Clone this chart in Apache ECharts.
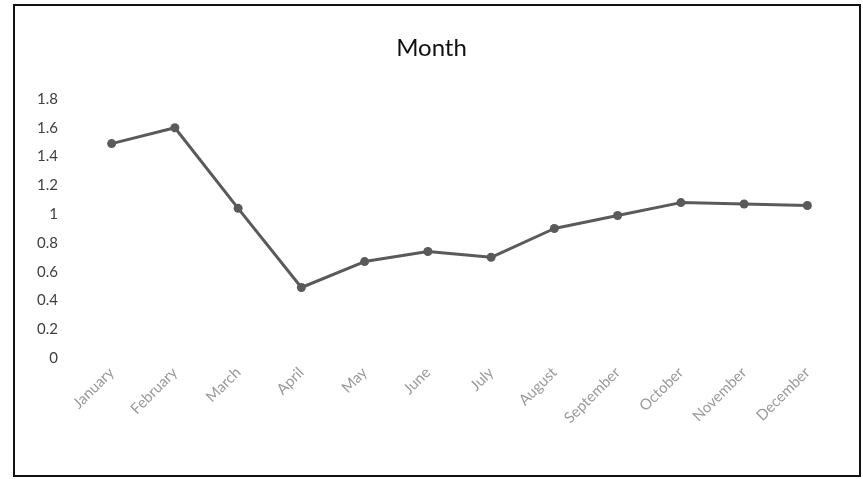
<!DOCTYPE html>
<html><head><meta charset="utf-8">
<script src="https://cdn.jsdelivr.net/npm/echarts@6/dist/echarts.min.js"></script>
<style>html,body{margin:0;padding:0;background:#fff}#c{width:863px;height:479px}</style>
</head><body><div id="c"></div>
<script>
const categories = ['January','February','March','April','May','June','July','August','September','October','November','December'];
const values = [1.49, 1.6, 1.04, 0.49, 0.67, 0.74, 0.70, 0.90, 0.99, 1.08, 1.07, 1.06];
const yTicks = {min: 0, max: 1.8, interval: 0.2};
const chart = echarts.init(document.getElementById('c'));
chart.setOption({
  backgroundColor: '#fff',
  animation: false,
  title: {text: 'Month', left: 'center', top: 31, textStyle: {fontFamily: 'Lato', fontSize: 24, fontWeight: 'normal', color: '#111'}},
  graphic: [{type: 'rect', shape: {x: 14, y: 5, width: 846, height: 471}, style: {fill: 'none', stroke: '#111', lineWidth: 2}, silent: true}],
  grid: {left: 80, right: 24, top: 99, bottom: 121},
  xAxis: {type: 'category', data: categories, boundaryGap: true,
    axisLine: {show: false}, axisTick: {show: false},
    axisLabel: {rotate: 45, margin: 12, fontFamily: 'Lato', fontSize: 15, color: '#9a9a9a'}},
  yAxis: {type: 'value', min: yTicks.min, max: yTicks.max, interval: yTicks.interval,
    splitLine: {show: false}, axisLine: {show: false}, axisTick: {show: false},
    axisLabel: {margin: 22, fontFamily: 'Lato', fontSize: 15, color: '#404040', formatter: v => String(+v.toFixed(1))}},
  series: [{type: 'line', data: values, symbol: 'circle', symbolSize: 9,
    lineStyle: {color: '#5a5a5a', width: 3}, itemStyle: {color: '#5a5a5a'}}]
});
</script></body></html>
